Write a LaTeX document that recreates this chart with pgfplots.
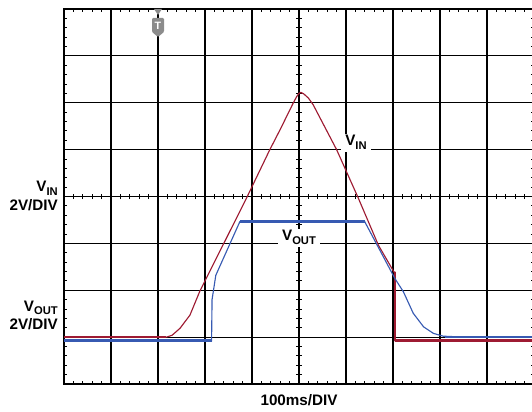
\documentclass[border=0pt]{standalone}
\usepackage{pgfplots}
\pgfplotsset{compat=1.18}
\usepackage{fontspec}
\setmainfont{Liberation Sans}
\definecolor{vinred}{RGB}{158,27,50}
\definecolor{voutblue}{RGB}{55,90,178}
\definecolor{trig}{RGB}{140,140,140}
\newcommand{\lbl}{\fontsize{11.4}{13}\selectfont\bfseries}
\newcommand{\sub}[1]{\raisebox{-2.8pt}{\fontsize{8.4}{9}\selectfont\bfseries #1}}
\begin{document}
\begin{tikzpicture}
\useasboundingbox (0,0) rectangle (399pt,308.25pt);
\begin{axis}[
  at={(48pt,20.25pt)}, anchor=south west,
  scale only axis, width=352.5pt, height=281.25pt,
  xmin=0, xmax=10, ymin=0, ymax=8,
  xtick={0,...,10}, ytick={0,...,8},
  xticklabels={}, yticklabels={},
  major tick length=0pt,
  minor x tick num=4, minor y tick num=4,
  minor tick length=2.4pt,
  tick align=inside,
  minor tick style={black, line width=0.6pt},
  grid=major,
  major grid style={black, line width=0.8pt},
  axis line style={black, line width=1.1pt},
]
\pgfplotsinvokeforeach{0.2,0.4,...,7.9}{\draw[black, line width=0.6pt] (axis cs:5,#1) ++(-2pt,0) -- ++(4pt,0);}
\pgfplotsinvokeforeach{0.2,0.4,...,9.9}{\draw[black, line width=0.6pt] (axis cs:#1,4) ++(0,-2pt) -- ++(0,4pt);}
% V_IN trace
\addplot[vinred, line width=0.85pt] coordinates {
(0,1.0) (2.18,1.0) (2.3,1.04) (2.47,1.19) (2.68,1.47) (2.89,1.98) (3.89,3.98) (4.37,4.98) (4.61,5.45) (4.88,6.0) (4.95,6.13) (5.0,6.2) (5.04,6.22) (5.1,6.19) (5.2,6.1) (5.3,5.96) (5.80,5.0) (6.26,3.97) (6.69,2.96) (7.02,2.39) (7.04,2.39) (7.04,0.92) (10,0.92)};
\addplot[vinred, line width=1.4pt] coordinates {(0,1.0) (2.18,1.0)};
\addplot[vinred, line width=1.4pt] coordinates {(7.04,2.39) (7.04,0.92)};
\addplot[vinred, line width=2.3pt] coordinates {(7.04,0.92) (10,0.92)};
% V_OUT trace
\addplot[voutblue, line width=0.85pt] coordinates {
(0,0.92) (3.14,0.92) (3.15,1.8) (3.23,2.32) (3.74,3.46) (6.40,3.46) (7.04,2.25) (7.22,1.97) (7.43,1.51) (7.65,1.22) (7.86,1.08) (8.07,1.02) (8.3,1.01) (10,1.01)};
\addplot[voutblue, line width=2.3pt] coordinates {(0,0.92) (3.14,0.92)};
\addplot[voutblue, line width=2pt] coordinates {(3.74,3.46) (6.40,3.46)};
\addplot[voutblue, line width=1.6pt] coordinates {(8.1,1.01) (10,1.01)};
\end{axis}
\begin{scope}[x=0.75pt, y=-0.75pt, shift={(0,308.25pt)}]
% left labels
\node[anchor=base east, inner sep=0pt] at (58,192) {\lbl V\sub{IN}};
\node[anchor=base east, inner sep=0pt] at (58,211) {\lbl 2V/DIV};
\node[anchor=base east, inner sep=0pt] at (58,311) {\lbl V\sub{OUT}};
\node[anchor=base east, inner sep=0pt] at (58,329.5) {\lbl 2V/DIV};
% bottom label
\node[anchor=base, inner sep=0pt] at (299,405) {\lbl 100ms/DIV};
% in-plot labels
\node[fill=white, inner xsep=3pt, inner ysep=1.5pt, anchor=base west] at (341,146) {\lbl V\sub{IN}};
\node[fill=white, inner xsep=3pt, inner ysep=1.5pt, anchor=base] at (299,241) {\lbl V\sub{OUT}};
% trigger marker
\fill[trig] (154,9) -- (162,9) -- (158,15) -- cycle;
\fill[trig, rounded corners=0.8pt] (152,18) -- (164,18) -- (164,32) -- (158,37) -- (152,32) -- cycle;
\node[white, inner sep=0pt] at (158,25.5) {\fontsize{8}{9}\selectfont\bfseries T};
\end{scope}
\end{tikzpicture}
\end{document}
